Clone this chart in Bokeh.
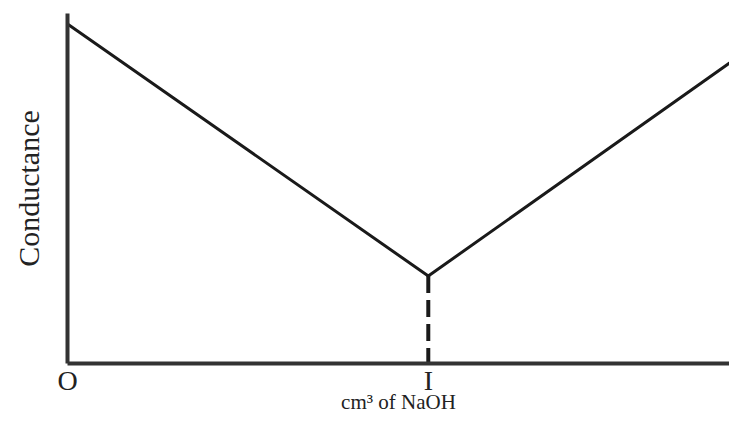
from bokeh.plotting import figure
from bokeh.models import Range1d, FixedTicker
from bokeh.embed import file_html
from bokeh.resources import INLINE

# Data
volume = [0.0, 5.45, 10.2]         # cm3 of NaOH (arbitrary units)
conductance = [9.7, 2.5, 8.85]     # conductance (arbitrary units)
tick_values = [0.0, 5.45]
tick_labels = ["O", "I"]
x_title = "cm³ of NaOH"
y_title = "Conductance"

eq_x = [volume[1], volume[1]]
eq_y = [conductance[1], 0.0]

p = figure(width=729, height=417, output_backend="svg", toolbar_location=None,
           x_range=Range1d(0, 10), y_range=Range1d(0, 10),
           min_border_left=67, min_border_top=13, min_border_right=0,
           min_border_bottom=54)
p.outline_line_color = None
p.grid.visible = False
p.background_fill_color = "white"
p.border_fill_color = "white"

p.line(volume, conductance, line_color="#1a1a1a", line_width=3)
p.line(eq_x, eq_y, line_color="#1a1a1a", line_width=4, line_dash="17 7")

xa = p.xaxis[0]
xa.ticker = FixedTicker(ticks=tick_values)
xa.major_label_overrides = {v: t for v, t in zip(tick_values, tick_labels)}
xa.major_tick_line_color = None
xa.minor_tick_line_color = None
xa.major_tick_out = 0
xa.major_tick_in = 0
xa.axis_line_color = "#333333"
xa.axis_line_width = 4
xa.major_label_text_font = "Liberation Serif"
xa.major_label_text_font_size = "28px"
xa.major_label_text_color = "#222222"
xa.major_label_standoff = 1
xa.axis_label = x_title
xa.axis_label_text_font = "Liberation Serif"
xa.axis_label_text_font_style = "normal"
xa.axis_label_text_font_size = "21px"
xa.axis_label_text_color = "#222222"
xa.axis_label_standoff = -9

ya = p.yaxis[0]
ya.ticker = FixedTicker(ticks=[])
ya.major_tick_line_color = None
ya.minor_tick_line_color = None
ya.axis_line_color = "#333333"
ya.axis_line_width = 4
ya.axis_label = y_title
ya.axis_label_text_font = "Liberation Serif"
ya.axis_label_text_font_style = "normal"
ya.axis_label_text_font_size = "30px"
ya.axis_label_text_color = "#222222"
ya.axis_label_standoff = 23

open("out.html", "w").write(file_html(p, INLINE))
